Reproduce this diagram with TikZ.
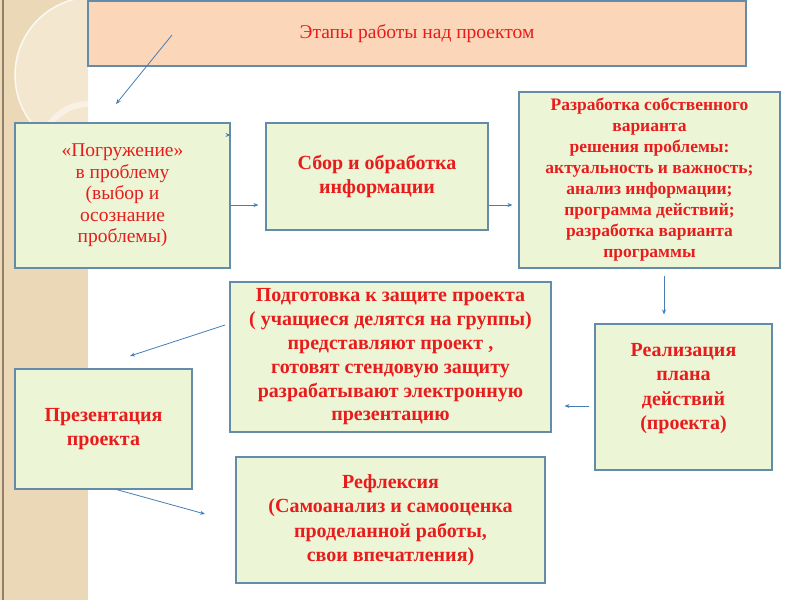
\documentclass[tikz,border=0pt]{standalone}
\usepackage{fontspec}
\setmainfont{Liberation Serif}
\usetikzlibrary{arrows.meta}
\definecolor{polosa}{RGB}{234,216,182}
\definecolor{polosasvet}{RGB}{243,231,207}
\definecolor{zagolovok}{RGB}{251,214,184}
\definecolor{zelen}{RGB}{236,246,214}
\definecolor{kontur}{RGB}{100,140,170}
\definecolor{strelka}{RGB}{70,125,180}
\definecolor{krasny}{RGB}{232,28,28}
\tikzset{
  etap/.style={draw=kontur, fill=zelen, line width=1.1pt, inner sep=0pt, align=center,
    text=krasny, font=\fontsize{20}{24.5}\selectfont\bfseries},
  strel/.style={-{Stealth[length=5pt,width=4pt]}, strelka, line width=0.8pt}
}
\begin{document}
\begin{tikzpicture}[x=1pt, y=-1pt]
  \useasboundingbox (0,0) rectangle (800,600);
  % Фон слева
  \fill[polosa] (0,0) rectangle (88,600);
  \begin{scope}
    \clip (0,0) rectangle (88,600);
    \fill[polosasvet] (93,75) circle (78);
    \draw[white, opacity=0.8, line width=1.5pt] (93,75) circle (78);
    \draw[white, opacity=0.45, line width=6pt] (88,150) circle (46);
  \end{scope}
  \draw[gray!70!brown, line width=1.2pt] (3,0) -- (3,600);

  % Заголовок
  \node[draw=kontur, fill=zagolovok, line width=1.1pt, minimum width=658pt, minimum height=65pt,
    text=krasny, font=\fontsize{19.5}{21}\selectfont] (titul) at (417,33.5) {Этапы работы над проектом};

  % Этапы
  \node[etap, minimum width=215pt, minimum height=145pt, font=\fontsize{19.5}{21.5}\selectfont] (pogr) at (122.5,195.5)
    {«Погружение»\\в проблему\\(выбор и\\осознание\\проблемы)};
  \node[etap, minimum width=222pt, minimum height=107pt] (sbor) at (377,176.5)
    {Сбор и обработка\\информации};
  \node[etap, minimum width=261pt, minimum height=176pt, font=\fontsize{17.5}{21}\selectfont\bfseries] (razr) at (649.5,180)
    {Разработка собственного\\варианта\\решения проблемы:\\актуальность и важность;\\анализ информации;\\программа действий;\\разработка варианта\\программы};
  \node[etap, minimum width=177pt, minimum height=146pt] (real) at (683.5,397)
    {Реализация\\плана\\действий\\(проекта)\\[-3pt]};
  \node[etap, minimum width=321pt, minimum height=150pt, font=\fontsize{20}{23.8}\selectfont\bfseries] (podg) at (390.5,357)
    {Подготовка к защите проекта\\( учащиеся делятся на группы)\\представляют проект ,\\готовят стендовую защиту\\разрабатывают электронную\\презентацию};
  \node[etap, minimum width=177pt, minimum height=120pt] (prez) at (103.5,429)
    {Презентация\\проекта};
  \node[etap, minimum width=309pt, minimum height=126pt] (refl) at (390.5,520)
    {Рефлексия\\(Самоанализ и самооценка\\проделанной работы,\\свои впечатления)};

  % Стрелки
  \coordinate (t1) at (172,35);
  \coordinate (t2) at (116,104);
  \draw[strel] (t1) -- (t2);
  \coordinate (m0) at (0,135);
  \draw[strel] ([xshift=-4pt]pogr.east |- m0) -- (pogr.east |- m0);
  \coordinate (m1) at (0,205);
  \draw[strel, shorten >=7pt] (pogr.east |- m1) -- (sbor.west |- m1);
  \draw[strel, shorten >=6pt] (sbor.east |- m1) -- (razr.west |- m1);
  \coordinate (m2) at (664,0);
  \draw[strel, shorten <=7pt, shorten >=9pt] (razr.south -| m2) -- (real.north -| m2);
  \coordinate (m3) at (0,406);
  \draw[strel, shorten <=5pt, shorten >=13pt] (real.west |- m3) -- (podg.east |- m3);
  \coordinate (p1) at (225,325);
  \coordinate (p2) at (130,356);
  \draw[strel] (p1) -- (p2);
  \coordinate (r1) at (205,514);
  \draw[strel] ([xshift=13pt]prez.south) -- (r1);
\end{tikzpicture}
\end{document}
